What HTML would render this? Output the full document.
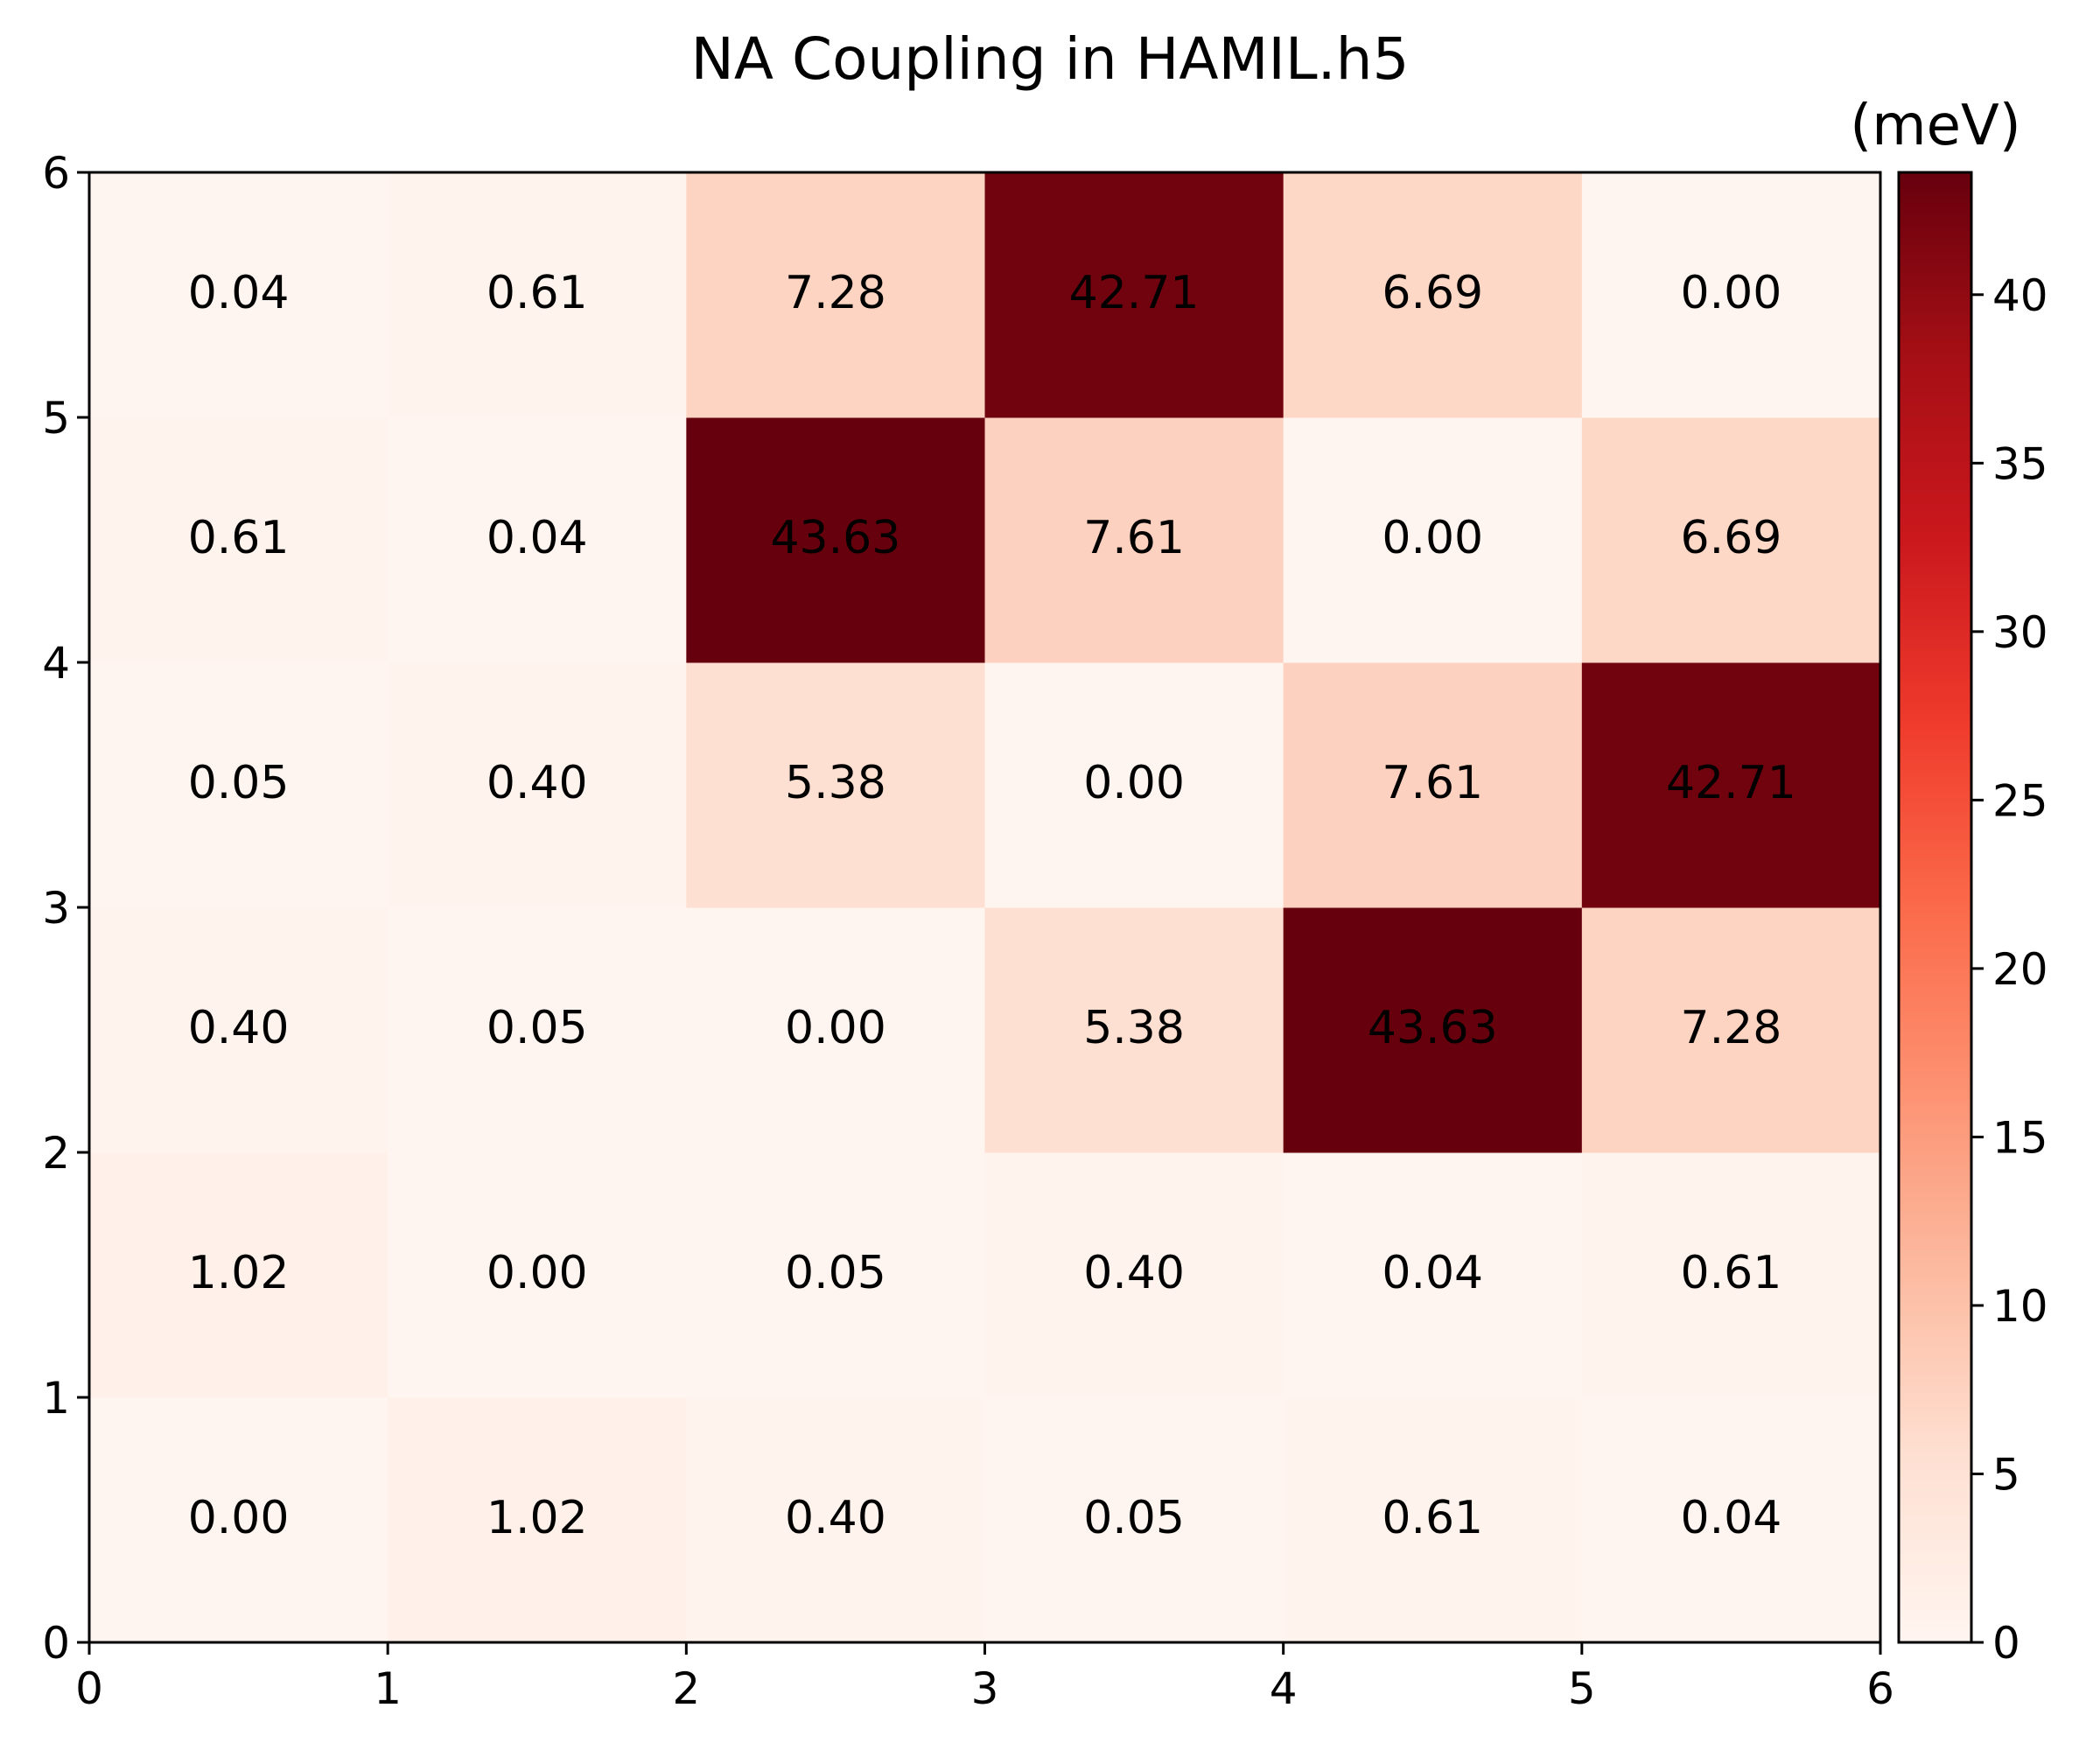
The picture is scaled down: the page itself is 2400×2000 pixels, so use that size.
<!DOCTYPE html>
<html><head><meta charset="utf-8"><style>
html,body{margin:0;padding:0;background:#fff}
svg{display:block}
text{font-family:"DejaVu Sans","Liberation Sans",sans-serif;fill:#000}
</style></head><body>
<svg id="chart" width="2400" height="2000" viewBox="0 0 2400 2000" xmlns="http://www.w3.org/2000/svg">
<text x="1200" y="90" font-size="66" text-anchor="middle">NA Coupling in HAMIL.h5</text>
<text x="2212" y="165" font-size="64" text-anchor="middle">(meV)</text>
<g id="cells"></g>
<g id="labels"></g>
<defs><linearGradient id="cbg" x1="0" y1="1" x2="0" y2="0"></linearGradient></defs>
<rect id="cbar" x="2170" y="197" width="83" height="1680" fill="url(#cbg)" stroke="#000" stroke-width="3"/>
<rect x="102" y="197" width="2047" height="1680" fill="none" stroke="#000" stroke-width="3"/>
<g id="axes"></g>
</svg>
<script>
const xCategories=[0,1,2,3,4,5];
const yCategories=[0,1,2,3,4,5];
const row0=[0.00,1.02,0.40,0.05,0.61,0.04];
const row1=[1.02,0.00,0.05,0.40,0.04,0.61];
const row2=[0.40,0.05,0.00,5.38,43.63,7.28];
const row3=[0.05,0.40,5.38,0.00,7.61,42.71];
const row4=[0.61,0.04,43.63,7.61,0.00,6.69];
const row5=[0.04,0.61,7.28,42.71,6.69,0.00];
const xTicks=[0,1,2,3,4,5,6];
const yTicks=[0,1,2,3,4,5,6];
const cbTicks=[0,5,10,15,20,25,30,35,40];

const rows=[row0,row1,row2,row3,row4,row5];
const NS="http://www.w3.org/2000/svg";
const L=102,R=2149,T=197,B=1877,CT=197,CB=1877;
const sx=v=>L+(R-L)*v/6;
const sy=v=>B-(B-T)*v/6;
const vmax=Math.max(...rows.flat());
const cy=v=>CB-(CB-CT)*v/vmax;
const reds=[[255,245,240],[254,224,210],[252,187,161],[252,146,114],[251,106,74],[239,59,44],[203,24,29],[165,15,21],[103,0,13]];
function cmap(t){t=Math.max(0,Math.min(1,t));const p=t*8,i=Math.min(7,Math.floor(p)),f=p-i;
 const c=reds[i].map((a,k)=>Math.round(a+(reds[i+1][k]-a)*f));return `rgb(${c})`;}
function mk(tag,attrs,parent){const e=document.createElementNS(NS,tag);for(const k in attrs)e.setAttribute(k,attrs[k]);parent.appendChild(e);return e;}
const cells=document.getElementById('cells'),labels=document.getElementById('labels'),axes=document.getElementById('axes');
rows.forEach((row,j)=>row.forEach((v,i)=>{
 const r=mk('rect',{x:sx(xCategories[i]),y:sy(yCategories[j]+1),width:sx(1)-sx(0)+0.5,height:sy(0)-sy(1)+0.5,fill:cmap(v/vmax)},cells);
 
 
 const t=mk('text',{x:sx(xCategories[i]+0.5),y:sy(yCategories[j]+0.5)+15,'font-size':52,'text-anchor':'middle'},labels);
 
 
 t.textContent=v.toFixed(2);
}));
const g=document.getElementById('cbg');
for(let k=0;k<=8;k++){mk('stop',{offset:k/8,'stop-color':cmap(k/8)},g);}
xTicks.forEach(v=>{
 const l=mk('line',{x1:sx(v),x2:sx(v),y1:B,y2:B+14,stroke:'#000','stroke-width':3},axes);
 
 
 const t=mk('text',{x:sx(v),y:B+70,'font-size':50,'text-anchor':'middle'},axes);
 
 
 t.textContent=v;
});
yTicks.forEach(v=>{
 const l=mk('line',{x1:L-14,x2:L,y1:sy(v),y2:sy(v),stroke:'#000','stroke-width':3},axes);
 
 
 const t=mk('text',{x:L-22,y:sy(v)+18,'font-size':50,'text-anchor':'end'},axes);
 
 
 t.textContent=v;
});
cbTicks.forEach(v=>{
 const l=mk('line',{x1:2253,x2:2267,y1:cy(v),y2:cy(v),stroke:'#000','stroke-width':3},axes);
 
 
 const t=mk('text',{x:2277,y:cy(v)+18,'font-size':50,'text-anchor':'start'},axes);
 
 
 t.textContent=v;
});
</script>
</body></html>
